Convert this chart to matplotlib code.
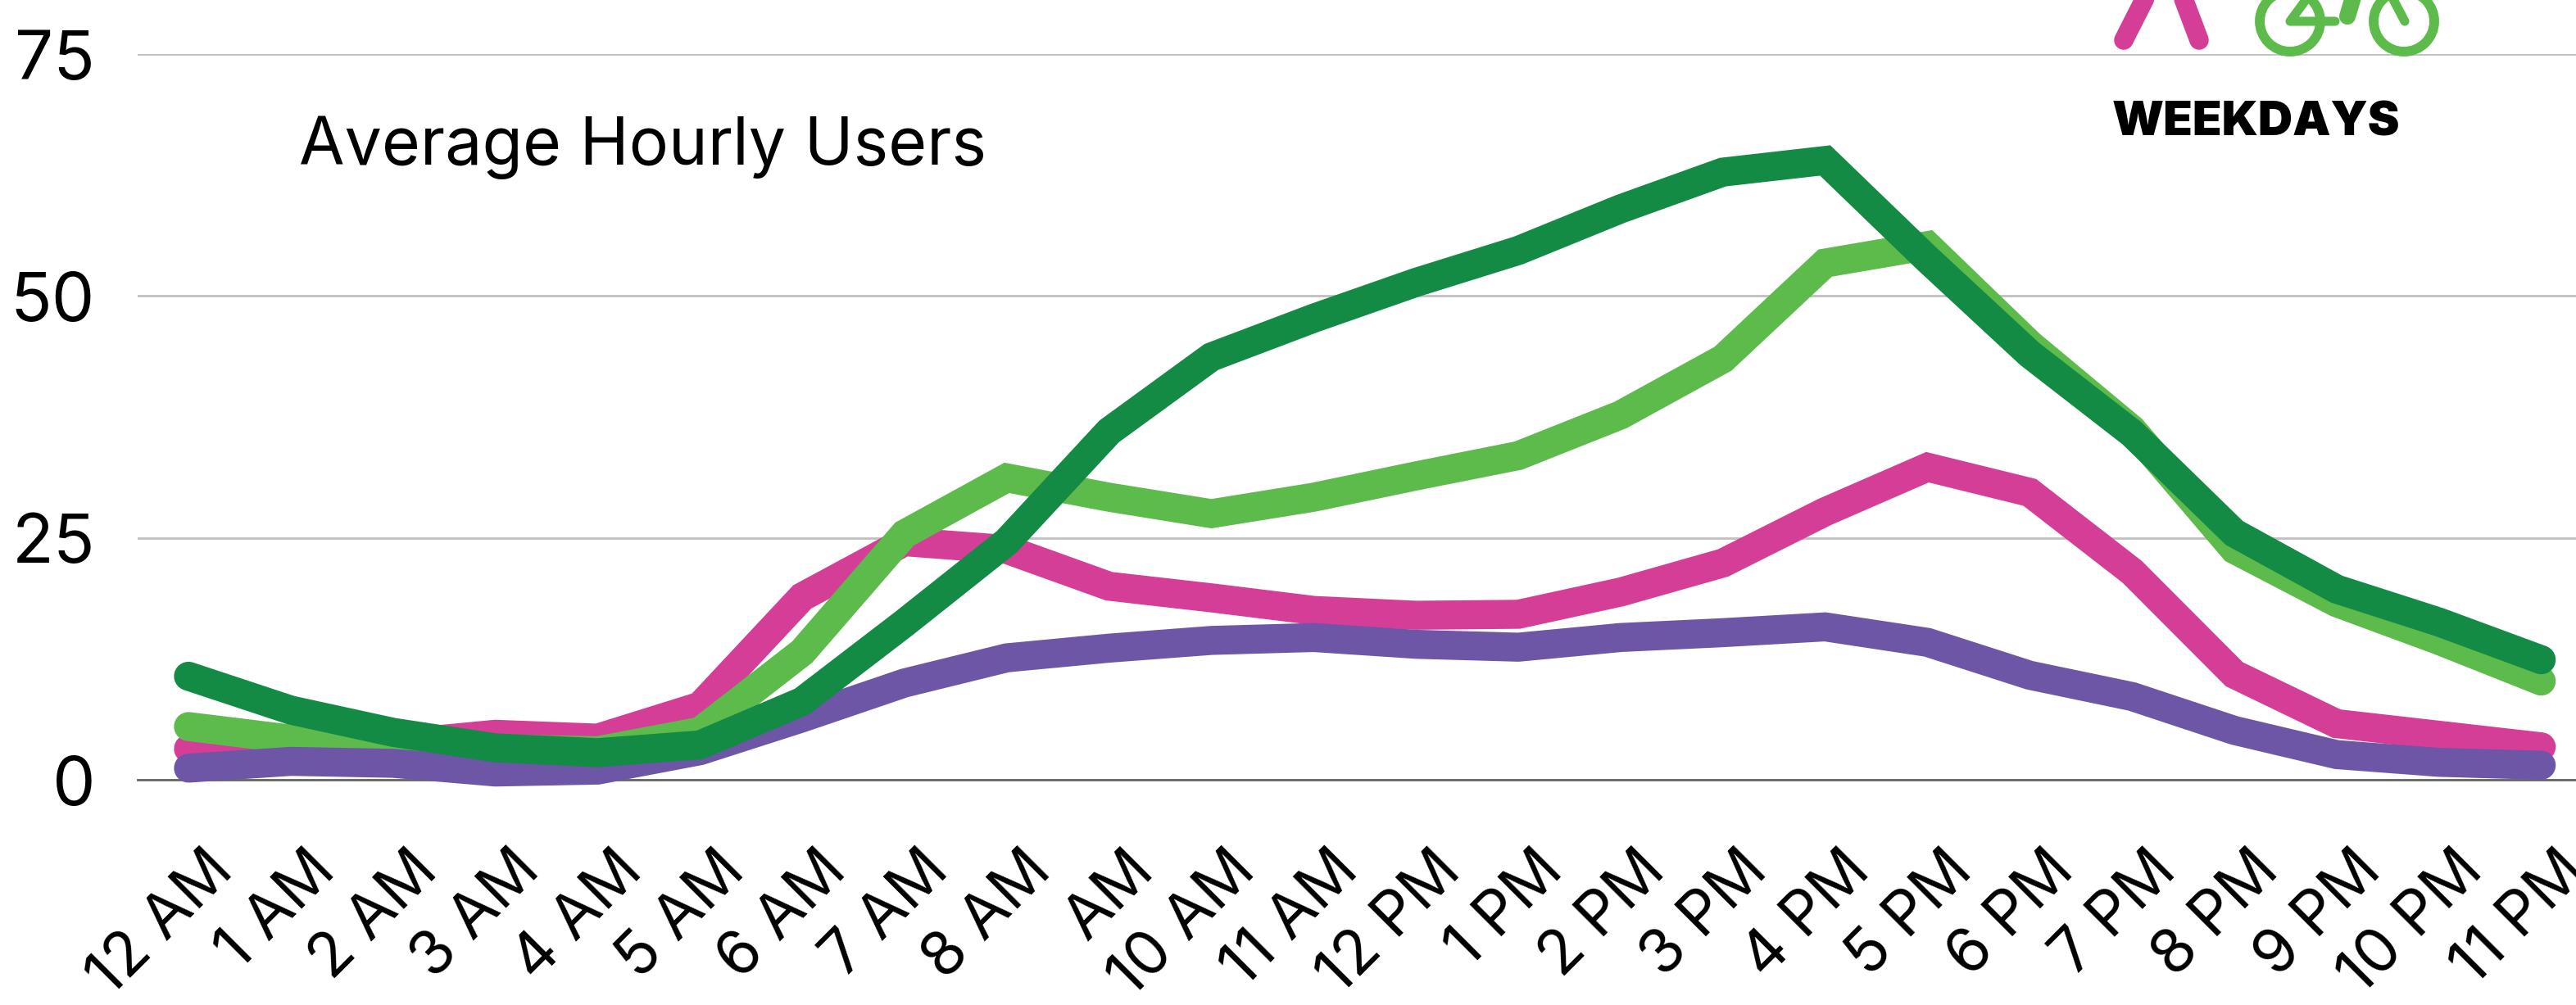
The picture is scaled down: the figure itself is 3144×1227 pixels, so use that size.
import matplotlib
matplotlib.use('Agg')
import matplotlib.pyplot as plt
from matplotlib.patches import Circle
from matplotlib.transforms import ScaledTranslation

hours = ['12 AM', '1 AM', '2 AM', '3 AM', '4 AM', '5 AM', '6 AM', '7 AM', '8 AM', 'AM', '10 AM', '11 AM',
         '12 PM', '1 PM', '2 PM', '3 PM', '4 PM', '5 PM', '6 PM', '7 PM', '8 PM', '9 PM', '10 PM', '11 PM']
pink = [3.2, 4.0, 3.7, 4.7, 4.3, 7.6, 18.9, 24.6, 23.8, 20.0, 18.8, 17.5,
        17.0, 17.1, 19.4, 22.4, 27.7, 32.3, 29.7, 21.5, 10.9, 5.8, 4.6, 3.4]
light_green = [5.5, 4.2, 3.2, 3.2, 3.0, 5.0, 13.2, 25.4, 31.2, 29.2, 27.5, 29.2,
               31.4, 33.5, 37.7, 43.5, 53.4, 55.2, 45.0, 36.2, 23.8, 18.3, 14.4, 10.2]
purple = [1.2, 1.9, 1.7, 0.8, 1.0, 3.0, 6.4, 10.0, 12.6, 13.6, 14.4, 14.7,
          14.0, 13.7, 14.7, 15.2, 15.8, 14.2, 10.8, 8.6, 5.1, 2.6, 1.8, 1.5]
dark_green = [10.7, 7.2, 4.9, 3.3, 2.8, 3.6, 8.1, 16.2, 24.6, 36.0, 43.7, 47.7,
              51.4, 54.7, 59.0, 62.8, 64.0, 53.8, 44.0, 35.8, 25.5, 19.7, 16.3, 12.4]
y_ticks = [0, 25, 50, 75]

W, H = 3144, 1227
fig = plt.figure(figsize=(W / 100, H / 100), dpi=100, facecolor='white')
plt.rcParams['font.family'] = ['Inter', 'DejaVu Sans']

# plot area runs past the right edge of the picture, same as the source crop
left, right, top, bottom = 167.6, 3164, 66, 952
ax = fig.add_axes([left / W, 1 - bottom / H, (right - left) / W, (bottom - top) / H])
x = list(range(len(hours)))
for vals, col in [(pink, '#d53e97'), (light_green, '#5dbb4b'), (purple, '#6c56a5'), (dark_green, '#148b45')]:
    ax.plot(x, vals, color=col, lw=25.5, solid_capstyle='round', solid_joinstyle='miter', clip_on=False, zorder=3)

ax.set_xlim(-0.5, 23.5)
ax.set_ylim(0, 75)
ax.set_yticks(y_ticks)
ax.set_xticks(x)
ax.set_xticklabels(hours, rotation=45, ha='right', rotation_mode='anchor', fontsize=54, fontweight='normal')
ax.set_yticklabels(y_ticks, fontsize=60, fontweight='normal')
ax.tick_params(axis='both', length=0)
ax.tick_params(axis='x', pad=54)
ax.tick_params(axis='y', pad=37)
# labels sit a bit right of their ticks in the reference
shift = ScaledTranslation(18 / 100, 0, fig.dpi_scale_trans)
for lab in ax.get_xticklabels():
    lab.set_transform(lab.get_transform() + shift)
ax.grid(axis='y', color='#c0c0c0', lw=2)
ax.set_axisbelow(True)
for s in ['top', 'right', 'left']:
    ax.spines[s].set_visible(False)
ax.spines['bottom'].set_color('#666666')
ax.spines['bottom'].set_linewidth(2)

fig.text(365 / W, 1 - 180 / H, 'Average Hourly Users', fontsize=58, fontweight='normal', va='center', ha='left')
fig.text(2578 / W, 1 - 150 / H, 'WEEKDAYS', fontsize=42, fontweight='black', va='center', ha='left')

# icons cut by the top of the picture
ov = fig.add_axes([0, 0, 1, 1], facecolor='none')
ov.set_xlim(0, W)
ov.set_ylim(H, 0)
ov.axis('off')
ov.plot([2627, 2592], [-20, 49], color='#d53e97', lw=17, solid_capstyle='round')
ov.plot([2658, 2684], [-20, 49], color='#d53e97', lw=17, solid_capstyle='round')
for cx in [2795, 2934]:
    ov.add_patch(Circle((cx, 26), 37, fill=False, ec='#5dbb4b', lw=8.5))
ov.plot([2820, 2795, 2850], [-8, 26, 26], color='#5dbb4b', lw=8, solid_capstyle='round', solid_joinstyle='round')
ov.plot([2877, 2865], [-20, 20], color='#5dbb4b', lw=14.5, solid_capstyle='round')
ov.plot([2915, 2935], [-12, 26], color='#5dbb4b', lw=8, solid_capstyle='round')

fig.savefig('out.png', dpi=100)
